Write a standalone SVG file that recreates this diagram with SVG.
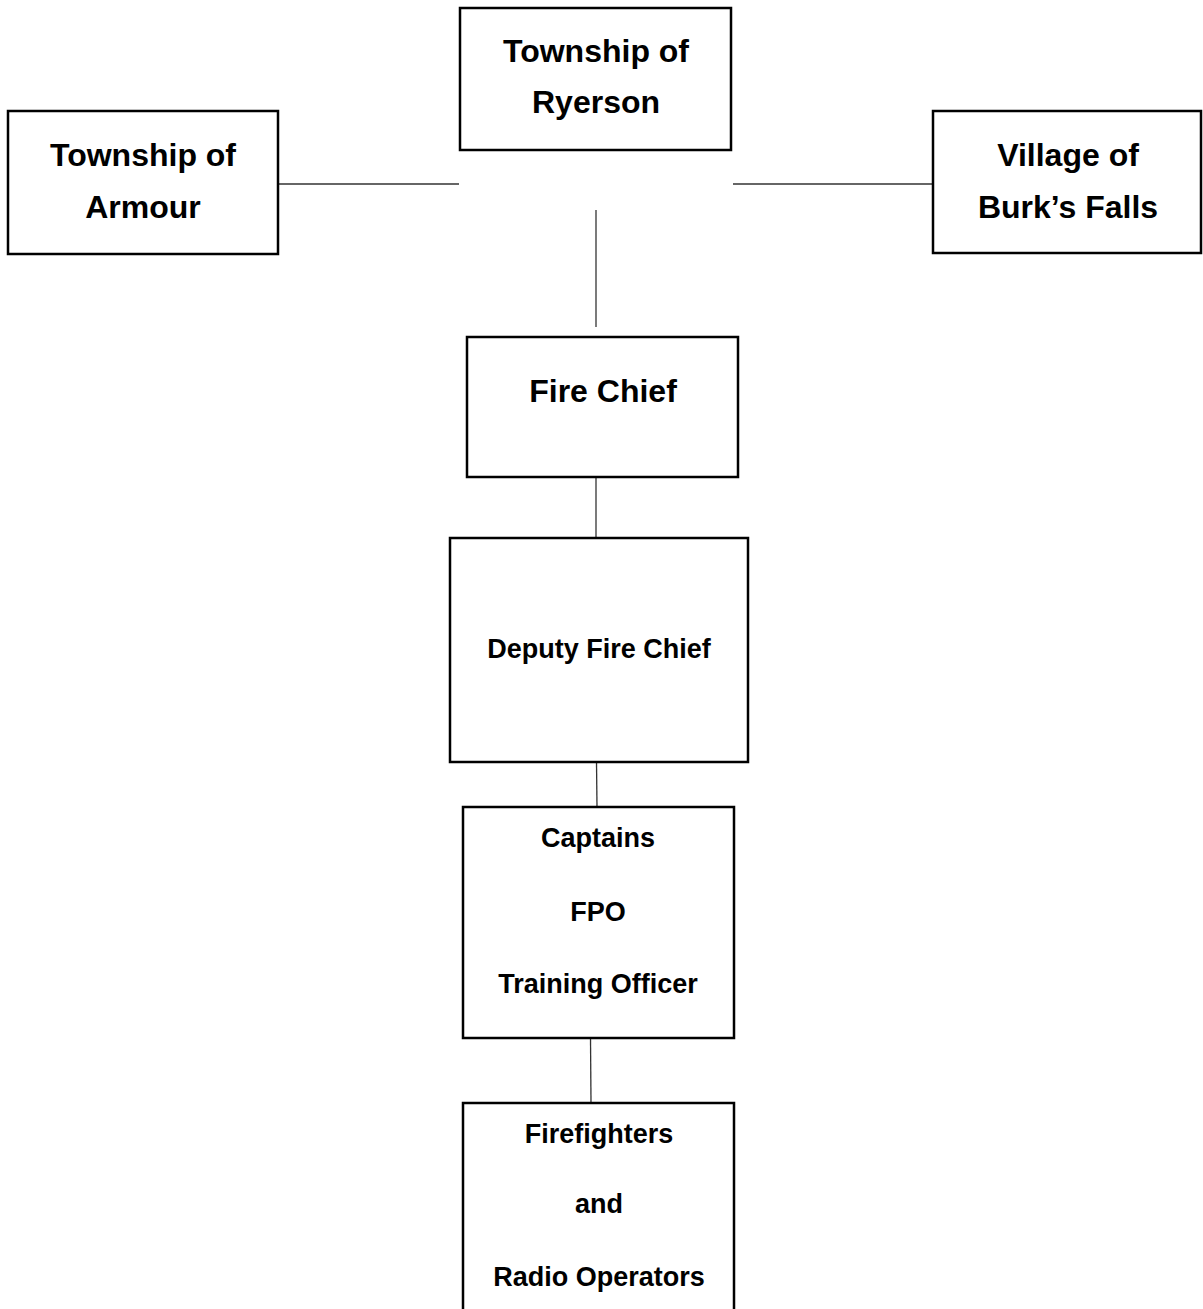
<svg xmlns="http://www.w3.org/2000/svg" width="1203" height="1309" viewBox="0 0 1203 1309">
<style>
.box{fill:#fff;stroke:#000;stroke-width:2.5}
.t{font-family:"Liberation Sans",Arial,sans-serif;font-weight:bold;fill:#000;text-anchor:middle}
.big{font-size:32px}
.sm{font-size:27px}
.con line{stroke:#333;stroke-width:1.3}
</style>
<rect width="1203" height="1309" fill="#fff"/>
<g id="connectors" class="con">
<line x1="278" y1="184" x2="459" y2="184"/>
<line x1="733" y1="184" x2="933" y2="184"/>
<line x1="596" y1="210" x2="596" y2="327"/>
<line x1="596" y1="468" x2="596" y2="538"/>
<line x1="596.5" y1="762" x2="597" y2="807"/>
<line x1="590.5" y1="1038" x2="591" y2="1103"/>
</g>
<g id="ryerson">
<rect class="box" x="460" y="8" width="271" height="142"/>
<text class="t big" x="596" y="62">Township of</text>
<text class="t big" x="596" y="113">Ryerson</text>
</g>
<g id="armour">
<rect class="box" x="8" y="111" width="270" height="143"/>
<text class="t big" x="143" y="166">Township of</text>
<text class="t big" x="143" y="218">Armour</text>
</g>
<g id="burksfalls">
<rect class="box" x="933" y="111" width="268" height="142"/>
<text class="t big" x="1068" y="166">Village of</text>
<text class="t big" x="1068" y="218">Burk’s Falls</text>
</g>
<g id="firechief">
<rect class="box" x="467" y="337" width="271" height="140"/>
<text class="t big" x="603" y="402">Fire Chief</text>
</g>
<g id="deputy">
<rect class="box" x="450" y="538" width="298" height="224"/>
<text class="t sm" x="599" y="658">Deputy Fire Chief</text>
</g>
<g id="captains">
<rect class="box" x="463" y="807" width="271" height="231"/>
<text class="t sm" x="598" y="847">Captains</text>
<text class="t sm" x="598" y="921">FPO</text>
<text class="t sm" x="598" y="993">Training Officer</text>
</g>
<g id="firefighters">
<rect class="box" x="463" y="1103" width="271" height="240"/>
<text class="t sm" x="599" y="1143">Firefighters</text>
<text class="t sm" x="599" y="1213">and</text>
<text class="t sm" x="599" y="1286">Radio Operators</text>
</g>
</svg>
